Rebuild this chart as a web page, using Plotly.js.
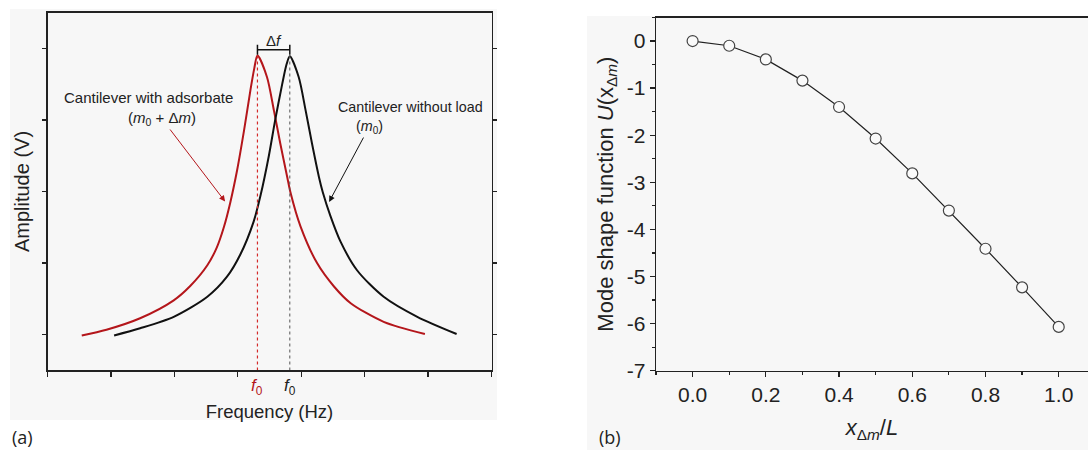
<!DOCTYPE html>
<html><head><meta charset="utf-8">
<script src="https://cdn.plot.ly/plotly-3.0.1.min.js"></script>
<style>html,body{margin:0;padding:0;background:#fff}#chart{width:1088px;height:450px}</style>
</head><body><div id="chart"></div>
<script>
// ---- Panel (a): resonance curves (schematic, arbitrary units) ----
const redFreq = [0.54,0.93,1.46,1.99,2.25,2.52,2.67,2.78,2.88,2.99,3.10,3.20,3.26,3.31,3.46,3.57,3.67,3.78,3.83,3.99,4.25,4.52,4.78,5.30,5.95];
const redAmp  = [0.99,1.07,1.23,1.48,1.68,1.97,2.22,2.50,2.84,3.30,3.86,4.42,4.72,4.90,4.60,4.13,3.67,3.20,2.99,2.51,2.00,1.67,1.44,1.18,1.01];
const blackFreq = [1.05,1.46,1.99,2.52,2.83,3.04,3.25,3.36,3.49,3.59,3.70,3.77,3.82,3.96,4.07,4.17,4.28,4.34,4.46,4.62,4.88,5.30,5.83,6.45];
const blackAmp  = [0.99,1.09,1.25,1.53,1.81,2.12,2.58,2.95,3.50,4.00,4.50,4.78,4.89,4.60,4.13,3.67,3.20,2.99,2.66,2.30,1.90,1.53,1.25,1.01];
const peakFreqs = [3.31, 3.82];   // f0 with adsorbate, f0 without load
const peakAmp = 4.90;
const bracketAmp = 4.98;
const freqTicks = [0,1,2,3,4,5,6,7];
const ampTicks = [1,2,3,4,5];

// ---- Panel (b): mode shape function ----
const xRatio = [0.0,0.1,0.2,0.3,0.4,0.5,0.6,0.7,0.8,0.9,1.0];
const modeShape = [0.0,-0.10,-0.39,-0.84,-1.40,-2.07,-2.81,-3.60,-4.41,-5.23,-6.07];
const xTicksB = [0.0,0.2,0.4,0.6,0.8,1.0];
const xTickTextB = ['0.0','0.2','0.4','0.6','0.8','1.0'];
const yTicksB = [0,-1,-2,-3,-4,-5,-6,-7];
const yTickTextB = ['0','-1','-2','-3','-4','-5','-6','-7'];

const RED = '#b4161b', BLK = '#111111', TXT = '#222222';
const FONT = 'Liberation Sans, Arial, sans-serif';

const traces = [
  {x: redFreq, y: redAmp, xaxis:'x', yaxis:'y', mode:'lines', line:{color:RED, width:2, shape:'spline', smoothing:0.8}, hoverinfo:'skip'},
  {x: blackFreq, y: blackAmp, xaxis:'x', yaxis:'y', mode:'lines', line:{color:BLK, width:2, shape:'spline', smoothing:0.8}, hoverinfo:'skip'},
  {x: [peakFreqs[0], peakFreqs[0]], y: [0.5, peakAmp], xaxis:'x', yaxis:'y', mode:'lines', line:{color:'#d42a2a', width:1.2, dash:'dot'}, hoverinfo:'skip'},
  {x: [peakFreqs[1], peakFreqs[1]], y: [0.5, peakAmp], xaxis:'x', yaxis:'y', mode:'lines', line:{color:'#555', width:1, dash:'dot'}, hoverinfo:'skip'},
  {x: peakFreqs, y: [bracketAmp, bracketAmp], xaxis:'x', yaxis:'y', mode:'lines+markers', line:{color:BLK, width:1.5},
   marker:{symbol:'line-ns-open', size:7, color:BLK, line:{width:1.5, color:BLK}}, hoverinfo:'skip'},
  {x: xRatio, y: modeShape, xaxis:'x2', yaxis:'y2', mode:'lines+markers', line:{color:'#222', width:1.2},
   marker:{symbol:'circle', size:11, color:'#fafafa', line:{color:'#444', width:1.2}}, hoverinfo:'skip'}
];

const axLine = {showline:true, linecolor:'#222', linewidth:1.3, zeroline:false, showgrid:false, tickcolor:'#222', tickwidth:1.3};

const layout = {
  width:1088, height:450, showlegend:false,
  margin:{l:0, r:0, t:0, b:0},
  paper_bgcolor:'#ffffff', plot_bgcolor:'rgba(0,0,0,0)',
  font:{family:FONT, color:TXT},
  xaxis: Object.assign({}, axLine, {domain:[0.04366,0.45175], anchor:'y', range:[0,7], tickvals:freqTicks, showticklabels:false,
    ticks:'outside', ticklen:5, mirror:true, automargin:false,
    title:{text:'Frequency (Hz)', font:{size:18.5, color:TXT}, standoff:29}}),
  xaxis3: Object.assign({}, axLine, {domain:[0.04366,0.45175], anchor:'y', overlaying:'x', side:'top', range:[0,7], tickvals:freqTicks,
    showticklabels:false, ticks:'inside', ticklen:4, showline:false, automargin:false}),
  yaxis: Object.assign({}, axLine, {domain:[0.17667,0.97222], anchor:'x', range:[0.5,5.5], tickvals:ampTicks, showticklabels:false,
    ticks:'outside', ticklen:4, mirror:'ticks', automargin:false,
    title:{text:'Amplitude (V)', font:{size:20, color:TXT}, standoff:7}}),
  xaxis2: Object.assign({}, axLine, {domain:[0.60294,1.0], anchor:'y2', range:[-0.1,1.08], tickvals:xTicksB, ticktext:xTickTextB,
    ticks:'outside', ticklen:5, mirror:true, automargin:false, tickfont:{size:21, color:TXT},
    minor:{dtick:0.1, tick0:0, ticks:'outside', ticklen:3, tickcolor:'#222', tickwidth:1.2},
    title:{text:'<i>x</i><sub>Δ<i>m</i></sub>/<i>L</i>', font:{size:22, color:TXT}, standoff:14}}),
  xaxis4: Object.assign({}, axLine, {domain:[0.60294,1.0], anchor:'y2', overlaying:'x2', side:'top', range:[-0.1,1.08], tickvals:xTicksB,
    showticklabels:false, ticks:'inside', ticklen:5, showline:false, automargin:false,
    minor:{dtick:0.1, tick0:0, ticks:'inside', ticklen:3, tickcolor:'#222', tickwidth:1.2}}),
  yaxis2: Object.assign({}, axLine, {domain:[0.17622,0.96111], anchor:'x2', range:[-7,0.5], tickvals:yTicksB, ticktext:yTickTextB,
    ticks:'outside', ticklen:5, mirror:true, automargin:false, tickfont:{size:21, color:TXT},
    minor:{dtick:0.5, tick0:0, ticks:'outside', ticklen:3, tickcolor:'#222', tickwidth:1.2},
    title:{text:'Mode shape function <i>U</i>(x<sub>Δ<i>m</i></sub>)', font:{size:22, color:TXT}, standoff:7}}),
  shapes:[
    {type:'rect', xref:'paper', yref:'paper', x0:0.0092, x1:0.4568, y0:0.0667, y1:0.98, fillcolor:'#f7f7f7', line:{width:0}, layer:'below'},
    {type:'rect', xref:'paper', yref:'paper', x0:0.5395, x1:1.0, y0:0.0, y1:0.9644, fillcolor:'#f7f7f7', line:{width:0}, layer:'below'}
  ],
  annotations:[
    {xref:'x', yref:'y', x:1.60, y:4.315, text:'Cantilever with adsorbate', showarrow:false, font:{size:15, color:TXT}},
    {xref:'x', yref:'y', x:2.80, y:2.86, axref:'x', ayref:'y', ax:1.80, ay:4.02, text:'(<i>m</i><sub>0</sub> + Δ<i>m</i>)',
     showarrow:true, arrowhead:2, arrowsize:1.2, arrowwidth:1, arrowcolor:RED, standoff:0, font:{size:15, color:TXT}},
    {xref:'x', yref:'y', x:5.73, y:4.18, text:'Cantilever without load', showarrow:false, font:{size:14.3, color:TXT}},
    {xref:'x', yref:'y', x:4.44, y:2.855, axref:'x', ayref:'y', ax:5.07, ay:3.90, text:'(<i>m</i><sub>0</sub>)',
     showarrow:true, arrowhead:2, arrowsize:1.2, arrowwidth:1, arrowcolor:BLK, standoff:0, font:{size:14.3, color:TXT}},
    {xref:'x', yref:'y', x:(peakFreqs[0]+peakFreqs[1])/2, y:bracketAmp, yanchor:'bottom', yshift:-1, text:'Δ<i>f</i>', showarrow:false, font:{size:15, color:TXT}},
    {xref:'x', yref:'paper', x:peakFreqs[0], y:1-387/450, yanchor:'middle', text:'<i>f</i><sub>0</sub>', showarrow:false, font:{size:17, color:RED}},
    {xref:'x', yref:'paper', x:peakFreqs[1], y:1-387/450, yanchor:'middle', text:'<i>f</i><sub>0</sub>', showarrow:false, font:{size:17, color:TXT}},
    {xref:'paper', yref:'paper', x:0.0092, xanchor:'left', y:1-437/450, yanchor:'middle', text:'(a)', showarrow:false, font:{family:'Open Sans, sans-serif', size:18, color:TXT}},
    {xref:'paper', yref:'paper', x:597/1088, xanchor:'left', y:1-437/450, yanchor:'middle', text:'(b)', showarrow:false, font:{family:'Open Sans, sans-serif', size:18, color:TXT}}
  ]
};

Plotly.newPlot('chart', traces, layout, {staticPlot:true, displayModeBar:false});
</script></body></html>
